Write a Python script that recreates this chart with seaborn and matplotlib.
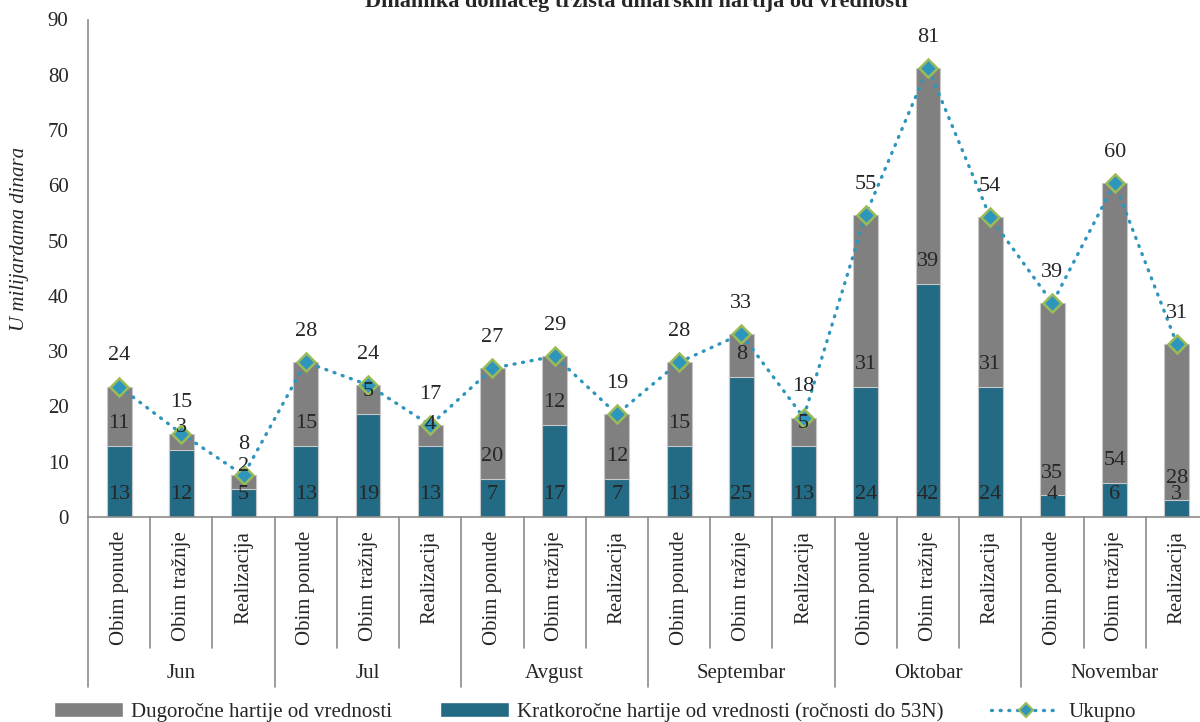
import matplotlib
matplotlib.use('Agg')
import matplotlib.pyplot as plt
import seaborn as sns
import pandas as pd
import numpy as np

# Data (milijarde dinara)
months = ["Jun", "Jul", "Avgust", "Septembar", "Oktobar", "Novembar"]
kinds = ["Obim ponude", "Obim tražnje", "Realizacija"]
kratkorocne = [12.9, 12.2, 5.1,
               12.9, 18.6, 12.8,
               6.9, 16.7, 6.9,
               12.9, 25.4, 12.9,
               23.6, 42.2, 23.6,
               3.9, 6.2, 3.0]
dugorocne = [10.7, 2.9, 2.45,
             15.1, 5.3, 3.8,
             20.0, 12.4, 11.7,
             15.1, 7.7, 5.1,
             31.1, 39.1, 30.6,
             34.8, 54.2, 28.3]
y_ticks = [0, 10, 20, 30, 40, 50, 60, 70, 80, 90]

TEAL = "#236a84"
GRAY = "#808080"
LINE = "#2e95bd"
MARKER_EDGE = "#9bbb59"
AXIS = "#8c8c8c"

sns.set_theme(style="white")
plt.rcParams['font.family'] = ['Liberation Serif', 'DejaVu Serif']

n = len(kratkorocne)
df = pd.DataFrame({
    "poz": np.arange(n),
    "kratko": kratkorocne,
    "dugo": dugorocne,
})
df["ukupno"] = df["kratko"] + df["dugo"]

fig = plt.figure(figsize=(12, 7.22), dpi=100)
ax = fig.add_axes([88 / 1200, 1 - 517 / 722, 1120 / 1200, 497.5 / 722])

# stacked bars: total in gray, short-term over it in teal
sns.barplot(data=df, x="poz", y="ukupno", color=GRAY, width=0.4,
            edgecolor="#c8c8c8", linewidth=0.8, saturation=1, ax=ax)
sns.barplot(data=df, x="poz", y="kratko", color=TEAL, width=0.4,
            edgecolor="#c8c8c8", linewidth=0.8, saturation=1, ax=ax)

ax.plot(df["poz"], df["ukupno"], color=LINE, linewidth=2.4,
        linestyle=(0, (0.3, 2.3)), dash_capstyle="round",
        marker="D", markersize=9, markerfacecolor=LINE,
        markeredgecolor=MARKER_EDGE, markeredgewidth=1.8, zorder=5)

# value labels
for i, row in df.iterrows():
    ax.annotate(f"{row['kratko']:.0f}", (i, 0), xytext=(0, 16), textcoords="offset points",
                ha="center", va="center", fontsize=16, zorder=6)
    ax.annotate(f"{row['dugo']:.0f}", (i, row['kratko']), xytext=(0, 16), textcoords="offset points",
                ha="center", va="center", fontsize=16, zorder=6)
    ax.annotate(f"{row['ukupno']:.0f}", (i, row['ukupno']), xytext=(0, 22), textcoords="offset points",
                ha="center", va="center", fontsize=16, zorder=6)

ax.set_xlim(-0.5, n - 0.5)
ax.set_ylim(0, 90)
ax.set_yticks(y_ticks)
ax.tick_params(axis="y", direction="out", length=5, width=1, color=AXIS, labelsize=15, pad=9)
ax.set_xticks([])
ax.set_xlabel("")
ax.set_ylabel("")
for side in ["top", "right"]:
    ax.spines[side].set_visible(False)
for side in ["left", "bottom"]:
    ax.spines[side].set_color(AXIS)
    ax.spines[side].set_linewidth(1.2)

# two-level category axis
tr = ax.get_xaxis_transform()
for k in range(n + 1):
    low = -0.3417 if k % 3 == 0 else -0.2633
    ax.plot([k - 0.5, k - 0.5], [0, low], transform=tr, color=AXIS,
            linewidth=1.2, clip_on=False)
for k in range(n):
    ax.text(k, -0.028, kinds[k % 3], transform=tr, rotation=90,
            ha="center", va="top", fontsize=15)
for g, m in enumerate(months):
    ax.text(3 * g + 1, -0.3136, m, transform=tr, ha="center", va="center", fontsize=15)

fig.text(20 / 1200, 1 - 239 / 722, "U milijardama dinara", rotation=90,
         ha="center", va="center", fontsize=15, style="italic")
fig.text(636 / 1200, 1 - 7 / 722, "Dinamika domaćeg tržišta dinarskih hartija od vrednosti",
         ha="center", va="baseline", fontsize=16, fontweight="bold")

handles = [
    plt.Rectangle((0, 0), 1, 1, facecolor=GRAY),
    plt.Rectangle((0, 0), 1, 1, facecolor=TEAL),
    plt.Line2D([], [], color=LINE, linewidth=2.4, linestyle=(0, (0.3, 2.3)),
               dash_capstyle="round", marker="D", markersize=7,
               markerfacecolor=LINE, markeredgecolor=MARKER_EDGE, markeredgewidth=1.5),
]
labels = ["Dugoročne hartije od vrednosti",
          "Kratkoročne hartije od vrednosti (ročnosti do 53N)",
          "Ukupno"]
fig.legend(handles, labels, loc="center", bbox_to_anchor=(595 / 1200, 1 - 712 / 722),
           ncol=3, frameon=False, fontsize=15, handlelength=3.3, handletextpad=0.4,
           columnspacing=2.3, borderpad=0)

fig.savefig("out.png", dpi=100)
plt.close(fig)
